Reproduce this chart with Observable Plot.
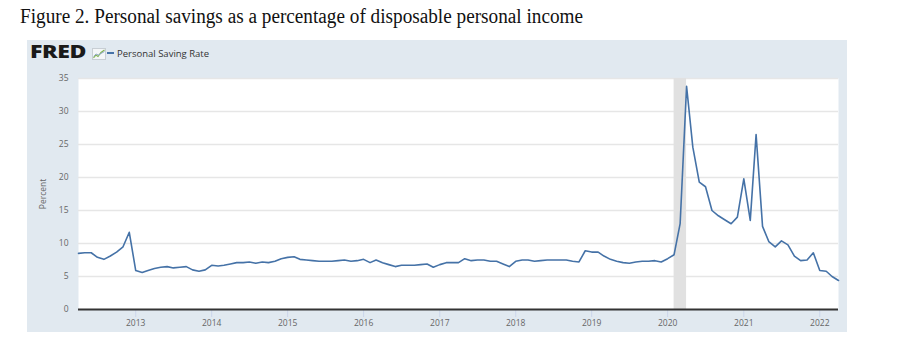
<!DOCTYPE html>
<html>
<head>
<meta charset="utf-8">
<script src="https://cdn.jsdelivr.net/npm/d3@7"></script>
<script src="https://cdn.jsdelivr.net/npm/@observablehq/plot@0.6"></script>
<style>
  html, body { margin: 0; padding: 0; background: #ffffff; }
  body { width: 902px; height: 354px; position: relative; overflow: hidden; font-family: "Open Sans", sans-serif; }
  #title { position: absolute; left: 20px; top: 5px; font-family: "Liberation Serif", serif; font-size: 20px; color: #111; white-space: nowrap; transform-origin: left top; }
  #panel { position: absolute; left: 27px; top: 40px; width: 820px; height: 292px; background: #e1e9f0; }
  #logo { position: absolute; left: 3px; top: 1px; font-family: "Open Sans", sans-serif; font-weight: 800; font-size: 17px; letter-spacing: -0.3px; color: #1a1a1a; line-height: 22px; transform-origin: left top; }
  #icon { position: absolute; left: 65px; top: 8px; }
  #legend { position: absolute; left: 80px; top: 7px; font-size: 9.5px; color: #333; line-height: 14px; white-space: nowrap; }
  #legend .sw { display: inline-block; width: 7px; height: 2px; background: #4572a7; vertical-align: middle; margin-right: 3px; position: relative; top: -1px; }
  #chart { position: absolute; left: 0; top: 0; }
</style>
</head>
<body>
<div id="title">Figure 2. Personal savings as a percentage of disposable personal income</div>
<div id="panel">
  <div id="chart"></div>
  <div id="logo">FRED</div>
  <svg id="icon" width="14" height="12" viewBox="0 0 14 12">
    <rect x="0.5" y="0.5" width="13" height="11" fill="#f4f6f8" stroke="#c8ced4" stroke-width="1"/>
    <polyline points="1.5,10 4,7 6,8.5 9,4.5 12.5,2" fill="none" stroke="#7fb24c" stroke-width="1.1"/>
    <polyline points="1.5,8.5 4,6 6.5,7 9,5.5 12.5,3.5" fill="none" stroke="#8aa4c4" stroke-width="0.9"/>
  </svg>
  <div id="legend"><span class="sw"></span>Personal Saving Rate</div>
</div>
<script>
// ---- Data (monthly, Personal Saving Rate, percent) ----
const startYear = 2012;
const startMonth = 4; // April 2012
const rate2012 = [8.5, 8.6, 8.6, 7.9, 7.6, 8.1, 8.7, 9.5, 11.7];           // Apr–Dec
const rate2013 = [5.9, 5.6, 5.9, 6.2, 6.4, 6.5, 6.3, 6.4, 6.5, 6.0, 5.8, 6.0];
const rate2014 = [6.7, 6.6, 6.7, 6.9, 7.1, 7.1, 7.2, 7.0, 7.2, 7.1, 7.3, 7.7];
const rate2015 = [7.9, 8.0, 7.6, 7.5, 7.4, 7.3, 7.3, 7.3, 7.4, 7.5, 7.3, 7.4];
const rate2016 = [7.6, 7.1, 7.5, 7.1, 6.8, 6.5, 6.7, 6.7, 6.7, 6.8, 6.9, 6.4];
const rate2017 = [6.8, 7.1, 7.1, 7.1, 7.7, 7.4, 7.5, 7.5, 7.3, 7.3, 6.9, 6.5];
const rate2018 = [7.3, 7.5, 7.5, 7.3, 7.4, 7.5, 7.5, 7.5, 7.5, 7.3, 7.2, 8.9];
const rate2019 = [8.7, 8.7, 8.1, 7.6, 7.3, 7.1, 7.0, 7.2, 7.3, 7.3, 7.4, 7.2];
const rate2020 = [7.7, 8.3, 13.0, 33.8, 24.6, 19.3, 18.6, 15.0, 14.2, 13.6, 13.0, 14.0];
const rate2021 = [19.8, 13.5, 26.5, 12.6, 10.3, 9.5, 10.4, 9.8, 8.1, 7.4, 7.5, 8.6];
const rate2022 = [5.9, 5.8, 5.0, 4.4];                                       // Jan–Apr

const recession = [{start: "2020-02-01", end: "2020-04-01"}];
const xTickYears = [2013, 2014, 2015, 2016, 2017, 2018, 2019, 2020, 2021, 2022];
const yTicks = [0, 5, 10, 15, 20, 25, 30, 35];
const yLabel = "Percent";
const seriesName = "Personal Saving Rate";

// ---- Build table ----
const yearly = [rate2012, rate2013, rate2014, rate2015, rate2016, rate2017, rate2018, rate2019, rate2020, rate2021, rate2022];
const data = [];
yearly.forEach((vals, i) => {
  const year = startYear + i;
  const m0 = i === 0 ? startMonth - 1 : 0;
  vals.forEach((v, j) => data.push({date: new Date(Date.UTC(year, m0 + j, 1)), value: v}));
});
const recData = recession.map(r => ({x1: new Date(r.start + "T00:00:00Z"), x2: new Date(r.end + "T00:00:00Z")}));
const xTicks = xTickYears.map(y => new Date(Date.UTC(y, 0, 1)));

const chart = Plot.plot({
  width: 820,
  height: 292,
  marginLeft: 51,
  marginRight: 9,
  marginTop: 38,
  marginBottom: 23,
  style: {background: "transparent", fontFamily: "Open Sans, sans-serif", fontSize: "8.5px", color: "#666", overflow: "visible"},
  x: {type: "utc", domain: [data[0].date, data[data.length - 1].date]},
  y: {domain: [0, 35]},
  marks: [
    Plot.frame({fill: "#ffffff", stroke: null}),
    Plot.gridY(yTicks.filter(d => d > 0), {stroke: "#e6e6e6", strokeOpacity: 1, strokeWidth: 1.5}),
    Plot.rect(recData, {x1: "x1", x2: "x2", fill: "#e1e1e1"}),
    Plot.axisX(xTicks, {tickFormat: d3.utcFormat("%Y"), tickSize: 8, tickPadding: 2, stroke: "#ccd6eb", fill: "#666", label: null}),
    Plot.axisY(yTicks, {tickSize: 0, tickPadding: 10, fill: "#666", label: yLabel, labelAnchor: "center", labelArrow: "none", labelOffset: 39}),
    Plot.ruleY([0], {stroke: "#333", strokeWidth: 2}),
    Plot.line(data, {x: "date", y: "value", stroke: "#4572a7", strokeWidth: 1.6, title: () => seriesName})
  ]
});
document.getElementById("chart").appendChild(chart);

// fit the title width to the reference
const t = document.getElementById("title");
t.style.transform = `scaleX(${563 / t.getBoundingClientRect().width})`;
// fit the logo width to the reference (about 56px wide)
const lg = document.getElementById("logo");
lg.style.transform = `scaleX(${56 / lg.getBoundingClientRect().width})`;
</script>
</body>
</html>
